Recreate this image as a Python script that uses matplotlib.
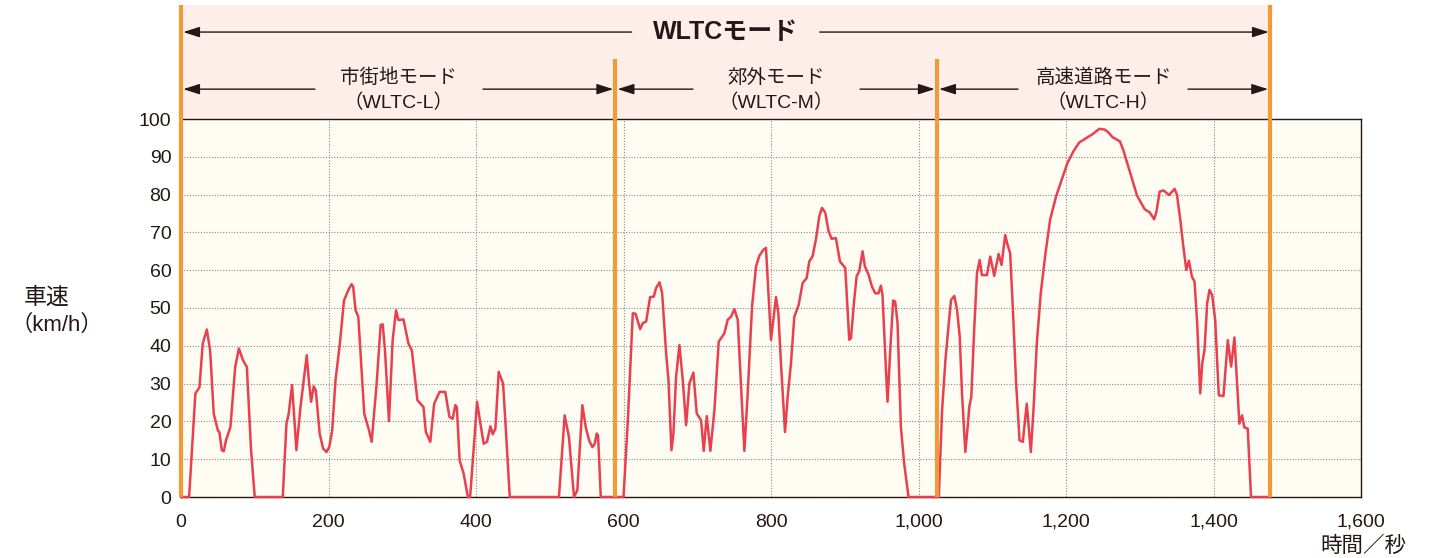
import matplotlib
matplotlib.use("Agg")
import matplotlib.pyplot as plt
from matplotlib.patches import Rectangle
import numpy as np

plt.rcParams['font.family'] = ['Liberation Sans', 'Noto Sans CJK JP', 'DejaVu Sans']

# ---- data ----
low_t = [0, 11, 19.5, 25, 29.5, 35, 39.5, 44.4, 50, 52, 55.3, 58, 61, 67, 73.5, 78.5, 84, 89.3, 95, 100,
         138, 143, 146, 150.6, 156.5, 162, 166.4, 170.5, 173.7, 176.4, 180, 182.8, 188, 192.7, 197.3, 201,
         205, 209.5, 215.4, 221, 226.8, 231.3, 233.5, 236.7, 240.4, 248.5, 255, 258.5, 265.3, 270.7, 273.5,
         276.6, 282, 287, 291.6, 294.8, 301.6, 308.4, 313, 320.6, 328.8, 332, 338, 343.3, 350.6, 358.3, 364,
         368.3, 372, 374, 377.8, 383.2, 389, 392, 397.7, 401.4, 406, 410.4, 415, 419.5, 422.7, 426.3, 430.8,
         436.7, 440, 445.8, 512.5, 520.2, 526, 532.9, 537.4, 544.2, 548.8, 553.3, 557.8, 561, 563.7, 565.5,
         569.2, 589]
low_v = [0, 0, 27.4, 29, 40.6, 44.3, 38.8, 22, 17.6, 17.2, 12.4, 12.1, 15, 18.5, 34.4, 39.3, 36.2, 34.4, 12.4, 0,
         0, 19.4, 22, 29.6, 12.4, 23.8, 30.9, 37.5, 30, 25.2, 29.3, 28.2, 16.8, 12.8, 11.9, 13.2,
         17.6, 30.9, 40.6, 52, 54.7, 56.3, 55.6, 49.4, 47.7, 22, 17.6, 14.6, 30, 45.5, 45.7,
         38.8, 20.1, 41.5, 49.4, 46.8, 47, 40.6, 38.8, 25.6, 23.8, 17.2, 14.6, 24.7, 27.8, 27.8, 21.2,
         20.7, 24.3, 23.8, 9.7, 6.2, 0, 0, 15, 25.2, 19.4, 14.1, 14.6, 18.7, 16.6, 18.1, 33.1,
         30, 19.4, 0, 0, 21.6, 15.9, 0, 1.8, 24.3, 18.5, 15, 13.2, 14.1, 16.8, 16.3,
         0, 0]

mid_t = [589, 600, 605.9, 612.6, 616.3, 622.6, 626.2, 630.7, 636.1, 641.1, 644.2, 648.8, 652.4, 657.8, 661, 665,
         667.7, 671.3, 675.8, 680.4, 684.9, 689.4, 694.8, 699.3, 705.2, 708.8, 712.9, 717.8, 723.3, 729.1,
         736.8, 741.3, 745.8, 750.3, 754.9, 759.4, 763.9, 768.4, 774.3, 779.7, 784.2, 789.6, 793.2, 795.5,
         800, 803.2, 806.8, 810, 813.5, 819, 822.6, 827.1, 831.6, 837.5, 842.9, 848.3, 851.9, 856.4, 860.9,
         865.5, 869.1, 873.6, 878.1, 882.2, 888, 893.5, 900.7, 906.1, 908.4, 912.9, 916.1, 919.6, 924.2,
         927.3, 932.3, 936.8, 941.3, 945.8, 949, 951.2, 954.4, 958, 962.5, 965.7, 968.4, 971.6, 976.1,
         980.6, 986.5, 1025]
mid_v = [0, 0, 20.3, 48.6, 48.5, 44.4, 46, 46.4, 52.9, 53, 55.3, 56.8, 53.9, 38, 30.9, 12.4,
         16.8, 31.8, 40.2, 30.9, 19, 30.1, 32.9, 22.1, 20.3, 12.2, 21.4, 12.2, 23, 41.1,
         43.3, 46.9, 47.7, 49.7, 46.9, 29.2, 12.2, 27.4, 50.4, 61, 63.8, 65.4, 65.9, 57.5,
         41.6, 46.9, 52.9, 48.6, 35.4, 17.2, 26.5, 35.4, 47.7, 50.8, 56.6, 57.9, 62.3, 63.7, 68.1,
         74.3, 76.5, 75.2, 70.3, 68.3, 68.5, 62.3, 60.6, 41.6, 42, 52.2, 58.4, 59.7, 65,
         61, 58.8, 55.7, 53.9, 53.9, 55.9, 53.5, 39.8, 25.2, 41.6, 52, 51.7, 46, 18.6,
         8.8, 0, 0]

high_t = [1025, 1027.5, 1032, 1036.5, 1041, 1044.1, 1048.6, 1052.3, 1055.9, 1059, 1063.5, 1066.7, 1068.9,
          1071.6, 1075.7, 1079.3, 1082.9, 1086, 1092.8, 1097.3, 1102.7, 1108.6, 1112.6, 1117.6, 1120.8,
          1124.3, 1128, 1132.4, 1137, 1141.4, 1146.8, 1152.3, 1155.9, 1160.4, 1165.8, 1171.6, 1178.4,
          1186.5, 1194.1, 1201.8, 1209.9, 1218, 1227.9, 1236.9, 1245, 1252.7, 1257.2, 1263.1, 1273,
          1277.5, 1286.5, 1296.4, 1306.8, 1313.5, 1319.4, 1322.5, 1327, 1332.4, 1339.6, 1347.3, 1350.5,
          1355, 1358.6, 1363.1, 1366.7, 1370.7, 1374.3, 1377.9, 1382, 1384.7, 1387.8, 1391.4, 1394.6,
          1398.2, 1402.3, 1407.2, 1413.5, 1419.4, 1423.9, 1428.4, 1431.5, 1435.1, 1438.7, 1441.9,
          1446.4, 1450.9, 1477]
high_v = [0, 0, 23, 36.2, 45.9, 52.1, 53.2, 49.5, 42.4, 27.4, 11.9, 18.6, 23.9,
          26.5, 45.1, 59.2, 62.7, 58.7, 58.7, 63.6, 58.5, 64.3, 61.4, 69.3, 66.7,
          64.5, 49.5, 30, 15, 14.6, 24.7, 11.9, 23, 40.6, 53.9, 63.6, 73.3,
          79.5, 83.9, 88.3, 91.4, 93.8, 95, 96.1, 97.4, 97.2, 96.5, 95.2, 94.1,
          91.9, 86.1, 79.7, 76.1, 75.3, 73.5, 75.3, 80.8, 81.1, 79.9, 81.5, 79.9,
          73.3, 67.1, 60.1, 62.5, 58.3, 57, 45.9, 27.4, 35.3, 38.9, 51.2, 54.8,
          53.4, 46.8, 26.9, 26.7, 41.5, 34.5, 42.2, 31.8, 19.4, 21.6, 18.4,
          18.1, 0, 0]

phase_bounds = [0, 589, 1025, 1477]
phase_names = ["市街地モード\n（WLTC-L）", "郊外モード\n（WLTC-M）", "高速道路モード\n（WLTC-H）"]
overall_name = "WLTCモード"
x_ticks = [0, 200, 400, 600, 800, 1000, 1200, 1400, 1600]
x_ticklabels = ["0", "200", "400", "600", "800", "1,000", "1,200", "1,400", "1,600"]
y_ticks = [0, 10, 20, 30, 40, 50, 60, 70, 80, 90, 100]

# ---- styles ----
RED = '#E8404F'
ORANGE = '#F29A36'
PINK = '#FDEEEA'
CREAM = '#FFFDF3'
INK = '#231815'
FS = 14

W, H = 1439, 558
fig = plt.figure(figsize=(W / 100, H / 100), dpi=100)
fig.patch.set_facecolor('white')
ax = fig.add_axes([181 / W, 61 / H, 1180 / W, 378 / H])
ax.set_facecolor(CREAM)
ax.set_xlim(0, 1600)
ax.set_ylim(0, 100)

for s in ax.spines.values():
    s.set_color(INK)
    s.set_linewidth(1.0)

ax.set_xticks(x_ticks)
ax.set_xticklabels(x_ticklabels)
ax.set_yticks(y_ticks)
ax.tick_params(length=0, labelsize=FS, colors=INK)
ax.tick_params(axis='x', pad=12)
ax.tick_params(axis='y', pad=7)
ax.grid(True, linestyle=(0, (1, 1.5)), color='#8a8a8a', linewidth=0.8)
ax.set_axisbelow(True)

# top banner region
top = 130.2
ax.add_patch(Rectangle((0, 100), phase_bounds[-1], top - 100, facecolor=PINK,
                       edgecolor='none', clip_on=False, zorder=0.5))

# speed trace
t = np.concatenate([low_t, mid_t, high_t])
v = np.concatenate([low_v, mid_v, high_v])
ax.plot(t, v, color=RED, lw=1.8, zorder=4, clip_on=False, solid_joinstyle='round')

# phase boundary lines
for i, b in enumerate(phase_bounds):
    ytop = top if i in (0, len(phase_bounds) - 1) else 115.9
    ax.plot([b, b], [0, ytop], color=ORANGE, lw=3, zorder=5, clip_on=False,
            solid_capstyle='butt')

def arrow(x0, x1, y):
    ax.annotate('', xy=(x1, y), xytext=(x0, y), xycoords='data', annotation_clip=False,
                arrowprops=dict(arrowstyle='-|>,head_length=1.0,head_width=0.32', color=INK,
                                lw=1.0, shrinkA=0, shrinkB=0, mutation_scale=10), zorder=6)

# overall WLTC arrow
y_top = 123.0
mid_all = (phase_bounds[0] + phase_bounds[-1]) / 2
ax.text(mid_all, y_top, overall_name, ha='center', va='center', fontsize=18,
        fontweight='bold', color=INK, zorder=6, family=['Liberation Sans', 'Noto Sans CJK JP'])
arrow(611, phase_bounds[0] + 3, y_top)
arrow(866, phase_bounds[-1] - 2, y_top)

# phase arrows
y_sub = 107.9
gaps = [(181.7, 409.5), (694.2, 920.7), (1134.9, 1365.4)]
for i in range(3):
    a, b = phase_bounds[i], phase_bounds[i + 1]
    ax.text((a + b) / 2, 107.6, phase_names[i], ha='center', va='center', fontsize=FS,
            color=INK, linespacing=1.45, zorder=6)
    arrow(gaps[i][0], a + 3, y_sub)
    arrow(gaps[i][1], b - 3, y_sub)

# axis labels
fig.text(47 / W, 1 - 297 / H, "車速", ha='center', va='center', fontsize=16.5, color=INK,
         family=['Noto Sans CJK JP'])
fig.text(57 / W, 1 - 325 / H, "（km/h）", ha='center', va='center', fontsize=16, color=INK)
fig.text(1363 / W, 1 - 546 / H, "時間／秒", ha='center', va='center', fontsize=15.5, color=INK,
         family=['Noto Sans CJK JP'])

fig.savefig('out.png', dpi=100, facecolor='white')
